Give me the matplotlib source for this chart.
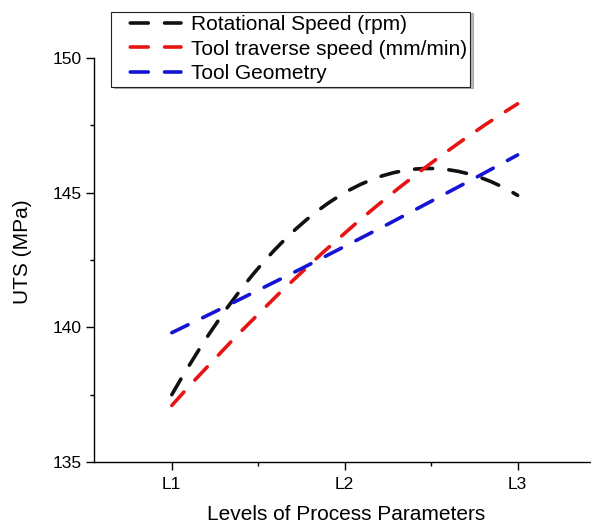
import matplotlib

matplotlib.use("Agg")
import matplotlib.pyplot as plt  # noqa: E402
from matplotlib.lines import Line2D  # noqa: E402
from matplotlib.patches import PathPatch  # noqa: E402
from matplotlib.path import Path  # noqa: E402
from matplotlib.ticker import MultipleLocator  # noqa: E402

plt.rcParams["font.family"] = ["Liberation Sans", "DejaVu Sans"]

levels = [1, 2, 3]
level_labels = ["L1", "L2", "L3"]
rotational_speed = [137.5, 145.0, 144.9]
traverse_speed = [137.1, 143.5, 148.3]
tool_geometry = [139.8, 143.0, 146.4]

series = [
    ("Rotational Speed (rpm)", rotational_speed, "#111111"),
    ("Tool traverse speed (mm/min)", traverse_speed, "#e81414"),
    ("Tool Geometry", tool_geometry, "#1414d2"),
]

W, H, DPI = 591, 527, 100
fig = plt.figure(figsize=(W / DPI, H / DPI), dpi=DPI)
# axes run off the right edge like the cropped original
ax = fig.add_axes([94 / W, 1 - 462 / H, 600 / W, (462 - 58) / H])
ax.set_xlim(0.55, 4.02)
ax.set_ylim(135, 150)

dash = (5, 4.5)
lw = 2.6
handles = []
for label, vals, color in series:
    # smooth spline-like connection (quadratic Bezier through the 3 points)
    p1, p2, p3 = [(x, y) for x, y in zip(levels, vals)]
    ctrl = (2 * p2[0] - (p1[0] + p3[0]) / 2, 2 * p2[1] - (p1[1] + p3[1]) / 2)
    path = Path([p1, ctrl, p3], [Path.MOVETO, Path.CURVE3, Path.CURVE3])
    ax.add_patch(PathPatch(path, fill=False, edgecolor=color, lw=lw,
                           linestyle=(0, dash), capstyle="round"))
    # legend sample starts with a gap, as in the original
    handles.append(Line2D([], [], color=color, lw=lw, linestyle=(5, dash),
                          dash_capstyle="round"))

ax.set_xticks(levels)
ax.set_xticklabels(level_labels)
ax.xaxis.set_minor_locator(MultipleLocator(0.5))
ax.yaxis.set_major_locator(MultipleLocator(5))
ax.yaxis.set_minor_locator(MultipleLocator(2.5))
ax.tick_params(which="major", direction="out", length=5.5, width=1,
               labelsize=12.5)
ax.tick_params(axis="y", which="major", pad=3.5)
ax.tick_params(axis="x", which="major", pad=5)
ax.tick_params(which="minor", direction="out", length=3.2, width=1)
for side in ("top", "right"):
    ax.spines[side].set_visible(False)
for side in ("left", "bottom"):
    ax.spines[side].set_linewidth(1)

fig.text(23 / W, 1 - 252 / H, "UTS (MPa)", rotation=90, ha="center",
         va="center", fontsize=15)
fig.text(346 / W, 1 - 515 / H, "Levels of Process Parameters", ha="center",
         va="center", fontsize=15)

leg = fig.legend(handles, [s[0] for s in series], loc="upper left",
                 bbox_to_anchor=(111 / W, 1 - 12 / H), borderaxespad=0,
                 fontsize=15, handlelength=3.2, handletextpad=0.5,
                 labelspacing=0.27, borderpad=0.15, fancybox=False,
                 framealpha=1,
                 shadow={"ox": 2, "oy": -1, "color": "0.55", "alpha": 0.6})
leg.get_frame().set_edgecolor("#222222")
leg.get_frame().set_linewidth(0.8)

fig.savefig("out.png", dpi=DPI)
